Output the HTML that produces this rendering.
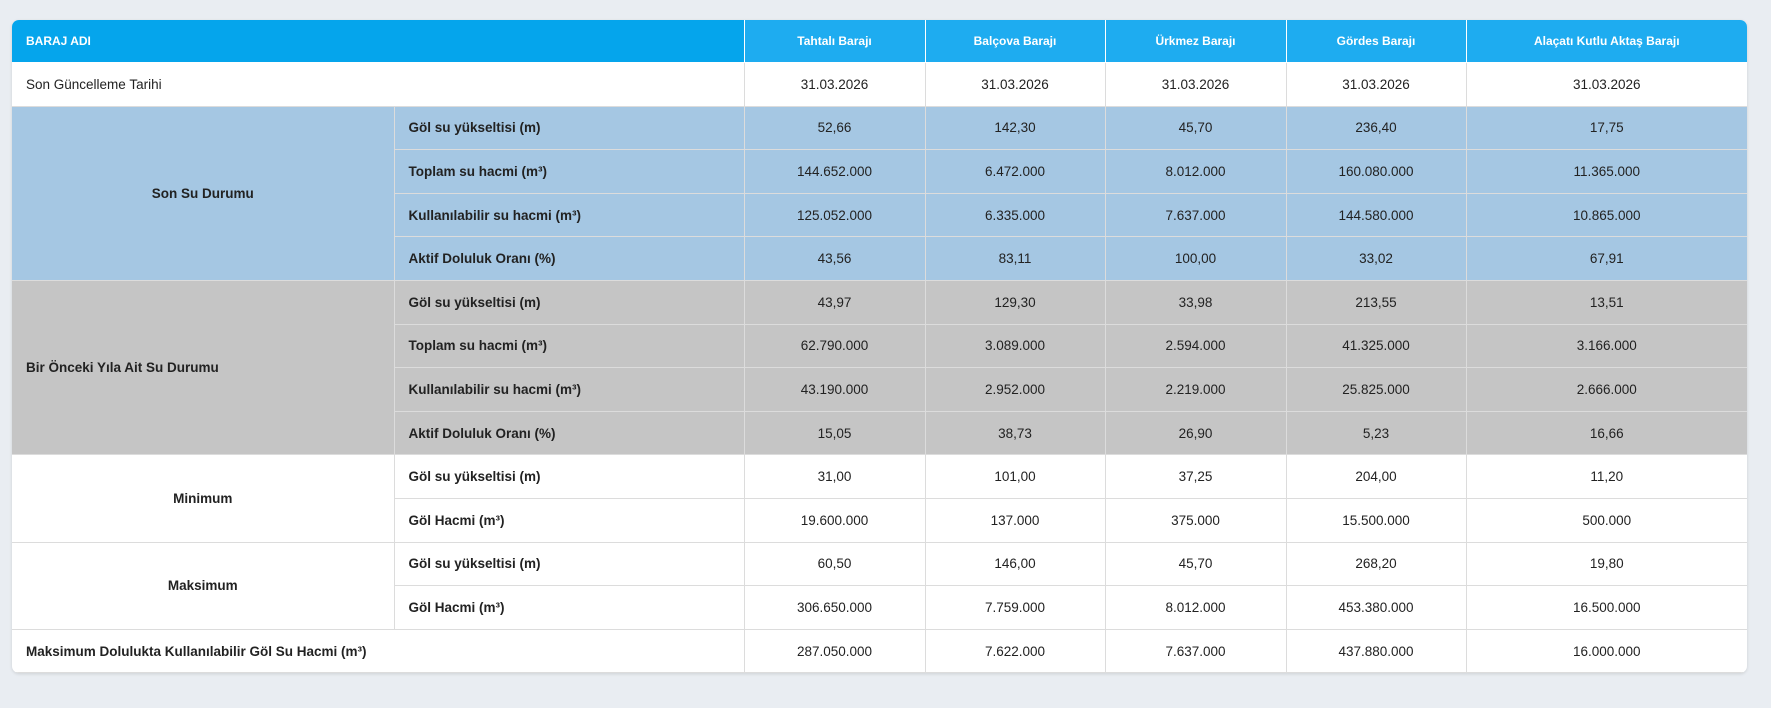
<!DOCTYPE html>
<html><head><meta charset="utf-8"><style>
html,body{margin:0;padding:0;background:#e9edf2;width:1771px;height:708px;overflow:hidden;font-family:"Liberation Sans",sans-serif;}
.wrap{position:absolute;left:12px;top:20px;width:1735px;border-radius:7px;overflow:hidden;box-shadow:0 1px 3px rgba(0,0,0,.12);background:#fff}
table{border-collapse:collapse;table-layout:fixed;width:1735px;font-size:13.5px;color:#222}
td,th{border:1px solid #dcdcdc;text-align:center;padding:0;overflow:hidden;white-space:nowrap}
th{background:#1eacf0;color:#fff;font-size:12px;font-weight:bold;height:42px;border-color:#fff;border-top:none}
th.f{background:#05a5ec;text-align:left;padding-left:14px;border-left:none}
tr{height:43.6px}
td.l{text-align:left;padding-left:14px}
.b td{background:#a5c7e3}
.g td{background:#c5c5c5}
td.s{text-align:left;padding-left:14px}
td.c{font-weight:bold}
tr td:first-child{border-left:none}
tr td:last-child,tr th:last-child{border-right:none}
</style></head><body>
<div class="wrap"><table>
<colgroup><col style="width:382px"><col style="width:350px"><col style="width:181px"><col style="width:180px"><col style="width:181px"><col style="width:180px"><col style="width:281px"></colgroup>
<tr style="height:42px"><th class="f" colspan="2">BARAJ ADI</th><th>Tahtalı Barajı</th><th>Balçova Barajı</th><th>Ürkmez Barajı</th><th>Gördes Barajı</th><th>Alaçatı Kutlu Aktaş Barajı</th></tr>
<tr><td class="l" colspan="2">Son Güncelleme Tarihi</td><td>31.03.2026</td><td>31.03.2026</td><td>31.03.2026</td><td>31.03.2026</td><td>31.03.2026</td></tr>
<tr class="b"><td rowspan="4" class="c">Son Su Durumu</td><td class="s c">Göl su yükseltisi (m)</td><td>52,66</td><td>142,30</td><td>45,70</td><td>236,40</td><td>17,75</td></tr>
<tr class="b"><td class="s c">Toplam su hacmi (m³)</td><td>144.652.000</td><td>6.472.000</td><td>8.012.000</td><td>160.080.000</td><td>11.365.000</td></tr>
<tr class="b"><td class="s c">Kullanılabilir su hacmi (m³)</td><td>125.052.000</td><td>6.335.000</td><td>7.637.000</td><td>144.580.000</td><td>10.865.000</td></tr>
<tr class="b"><td class="s c">Aktif Doluluk Oranı (%)</td><td>43,56</td><td>83,11</td><td>100,00</td><td>33,02</td><td>67,91</td></tr>
<tr class="g"><td rowspan="4" class="l c" style="text-align:left">Bir Önceki Yıla Ait Su Durumu</td><td class="s c">Göl su yükseltisi (m)</td><td>43,97</td><td>129,30</td><td>33,98</td><td>213,55</td><td>13,51</td></tr>
<tr class="g"><td class="s c">Toplam su hacmi (m³)</td><td>62.790.000</td><td>3.089.000</td><td>2.594.000</td><td>41.325.000</td><td>3.166.000</td></tr>
<tr class="g"><td class="s c">Kullanılabilir su hacmi (m³)</td><td>43.190.000</td><td>2.952.000</td><td>2.219.000</td><td>25.825.000</td><td>2.666.000</td></tr>
<tr class="g"><td class="s c">Aktif Doluluk Oranı (%)</td><td>15,05</td><td>38,73</td><td>26,90</td><td>5,23</td><td>16,66</td></tr>
<tr><td rowspan="2" class="c">Minimum</td><td class="s c">Göl su yükseltisi (m)</td><td>31,00</td><td>101,00</td><td>37,25</td><td>204,00</td><td>11,20</td></tr>
<tr><td class="s c">Göl Hacmi (m³)</td><td>19.600.000</td><td>137.000</td><td>375.000</td><td>15.500.000</td><td>500.000</td></tr>
<tr><td rowspan="2" class="c">Maksimum</td><td class="s c">Göl su yükseltisi (m)</td><td>60,50</td><td>146,00</td><td>45,70</td><td>268,20</td><td>19,80</td></tr>
<tr><td class="s c">Göl Hacmi (m³)</td><td>306.650.000</td><td>7.759.000</td><td>8.012.000</td><td>453.380.000</td><td>16.500.000</td></tr>
<tr><td class="l c" colspan="2">Maksimum Dolulukta Kullanılabilir Göl Su Hacmi (m³)</td><td>287.050.000</td><td>7.622.000</td><td>7.637.000</td><td>437.880.000</td><td>16.000.000</td></tr>
</table></div>
</body></html>
